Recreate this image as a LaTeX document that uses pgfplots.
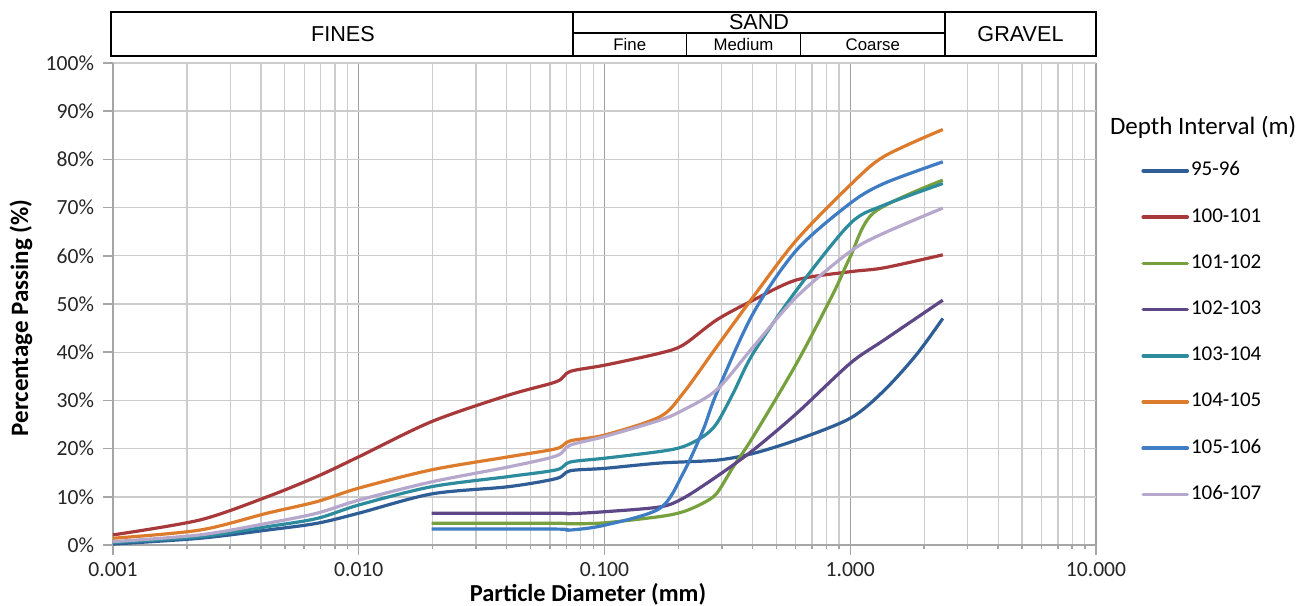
\documentclass[border=0pt]{standalone}
\usepackage{fontspec}
\setmainfont{Carlito}
\newfontfamily\arial{Liberation Sans}
\usepackage{pgfplots}
\pgfplotsset{compat=1.18}

\definecolor{cA}{HTML}{2E5E95}
\definecolor{cB}{HTML}{A8393A}
\definecolor{cC}{HTML}{77A03F}
\definecolor{cD}{HTML}{5E4787}
\definecolor{cE}{HTML}{2C8C9E}
\definecolor{cF}{HTML}{DD7B2C}
\definecolor{cG}{HTML}{3E7CC4}
\definecolor{cH}{HTML}{B6A8CC}

\begin{document}
\begin{tikzpicture}[x=1pt,y=1pt]
\path[use as bounding box] (-56.5,-30) rectangle (594,272.5);
\begin{axis}[
  at={(0,0)}, anchor=south west,
  scale only axis, width=491.5pt, height=241pt,
  xmode=log, xmin=0.001, xmax=10, ymin=0, ymax=100,
  xtick={0.001,0.01,0.1,1,10},
  xticklabels={0.001,0.010,0.100,1.000,10.000},
  ytick={0,10,...,100},
  yticklabels={0\%,10\%,20\%,30\%,40\%,50\%,60\%,70\%,80\%,90\%,100\%},
  tick label style={font=\fontsize{10.8}{12}\selectfont, text=black!85},
  xticklabel style={yshift=-2.3pt, inner ysep=1pt},
  yticklabel style={xshift=-1pt},
  axis lines*=left,
  axis line style={gray!70, line width=0.75pt, -},
  tick align=outside,
  tick style={gray!70, line width=0.75pt},
  major tick length=5pt, minor tick length=2pt,
  grid=both,
  major x grid style={gray!75, line width=0.7pt},
  minor x grid style={gray!40, line width=0.7pt},
  major y grid style={gray!40, line width=0.7pt},
  every axis plot/.append style={line width=1.6pt, smooth, tension=0.5, no marks},
  legend style={at={(1.0397,0.806)}, anchor=north west, draw=none, fill=none,
    font=\fontsize{10.5}{12}\selectfont, row sep=13.1pt,
    nodes={inner xsep=1pt, inner ysep=0pt, text height=7.5pt, text depth=2.5pt}},
  legend cell align=left,
  legend image code/.code={\draw[#1, line width=1.8pt, line cap=round] (0pt,0pt) -- (22pt,0pt);},
]
\addplot[cA] coordinates {(0.001,0.2) (0.00226,1.4) (0.00424,3.1) (0.00676,4.5) (0.01,6.6) (0.0198,10.6) (0.0407,12.1) (0.0638,13.8) (0.0724,15.4) (0.1,15.9) (0.168,17.0) (0.286,17.6) (0.403,19.0) (0.605,21.8) (1.0,26.3) (1.37,32.0) (1.86,39.5) (2.38,47.0)};
\addlegendentry{95-96}
\addplot[cB] coordinates {(0.001,2.1) (0.00226,5.2) (0.00424,10.0) (0.00676,14.2) (0.01,18.3) (0.0198,25.6) (0.0407,31.1) (0.0638,33.9) (0.0724,36.0) (0.1,37.3) (0.168,39.8) (0.209,41.5) (0.286,46.7) (0.403,50.8) (0.605,55.0) (1.0,56.7) (1.37,57.5) (2.38,60.2)};
\addlegendentry{100-101}
\addplot[cC] coordinates {(0.0198,4.5) (0.0638,4.5) (0.0724,4.4) (0.1,4.6) (0.168,5.9) (0.209,6.9) (0.252,8.7) (0.286,10.7) (0.334,16.2) (0.403,22.5) (0.605,37.7) (0.853,52.2) (1.0,59.8) (1.25,69.0) (2.38,75.7)};
\addlegendentry{101-102}
\addplot[cD] coordinates {(0.0198,6.6) (0.0638,6.6) (0.0724,6.5) (0.1,6.9) (0.168,7.9) (0.209,9.7) (0.286,14.2) (0.403,19.7) (0.605,27.3) (1.0,37.7) (1.37,42.5) (2.38,50.8)};
\addlegendentry{102-103}
\addplot[cE] coordinates {(0.001,0.5) (0.00226,1.7) (0.00424,3.8) (0.00676,5.5) (0.01,8.3) (0.0198,12.1) (0.0407,14.2) (0.0638,15.6) (0.0724,17.2) (0.1,18.0) (0.168,19.4) (0.209,20.4) (0.252,22.5) (0.286,25.2) (0.334,31.5) (0.403,39.8) (0.605,52.9) (1.0,66.7) (1.37,70.5) (2.38,75.0)};
\addlegendentry{103-104}
\addplot[cF] coordinates {(0.001,1.4) (0.00226,3.1) (0.00424,6.6) (0.00676,9.0) (0.01,11.8) (0.0198,15.6) (0.0407,18.3) (0.0638,20.0) (0.0724,21.6) (0.1,22.8) (0.168,26.6) (0.209,31.5) (0.286,41.1) (0.403,51.5) (0.605,63.3) (1.0,74.7) (1.37,80.6) (2.38,86.2)};
\addlegendentry{104-105}
\addplot[cG] coordinates {(0.0198,3.3) (0.0638,3.3) (0.0724,3.1) (0.1,4.1) (0.168,7.6) (0.209,14.9) (0.252,23.9) (0.286,31.5) (0.403,48.1) (0.605,61.2) (1.0,70.9) (1.37,75.0) (2.38,79.5)};
\addlegendentry{105-106}
\addplot[cH] coordinates {(0.001,0.7) (0.00226,2.1) (0.00424,4.5) (0.00676,6.6) (0.01,9.3) (0.0198,13.1) (0.0407,16.2) (0.0638,18.5) (0.0724,20.7) (0.1,22.5) (0.168,25.9) (0.209,28.0) (0.286,32.2) (0.403,41.1) (0.605,51.5) (1.0,60.9) (1.37,64.7) (2.38,69.9)};
\addlegendentry{106-107}
\end{axis}
% labels
\node[inner sep=0pt, font=\bfseries\fontsize{12.2}{14}\selectfont] at (237.5,-24.4) {Particle Diameter (mm)};
\node[font=\bfseries\fontsize{12.5}{15}\selectfont, rotate=90] at (-46,113.5) {Percentage Passing (\%)};
\node[anchor=west, font=\fontsize{12.5}{15}\selectfont] at (495,209) {Depth Interval (m)};
% header table
\draw[line width=1pt] (-1,244.5) rectangle (491.5,266.5);
\draw[line width=0.9pt] (230,244.5) -- (230,266.5) (416,244.5) -- (416,266.5)
  (230,256) -- (416,256) (286.75,244.5) -- (286.75,256) (343.75,244.5) -- (343.75,256);
\begin{scope}[font=\arial\fontsize{10.8}{12}\selectfont]
\node at (115,255.5) {FINES};
\node at (323,261.3) {SAND};
\node at (453.75,255.5) {GRAVEL};
\end{scope}
\begin{scope}[font=\arial\fontsize{8.4}{10}\selectfont]
\node at (258.4,250.2) {Fine};
\node at (315.25,250.2) {Medium};
\node at (379.9,250.2) {Coarse};
\end{scope}
\end{tikzpicture}
\end{document}
